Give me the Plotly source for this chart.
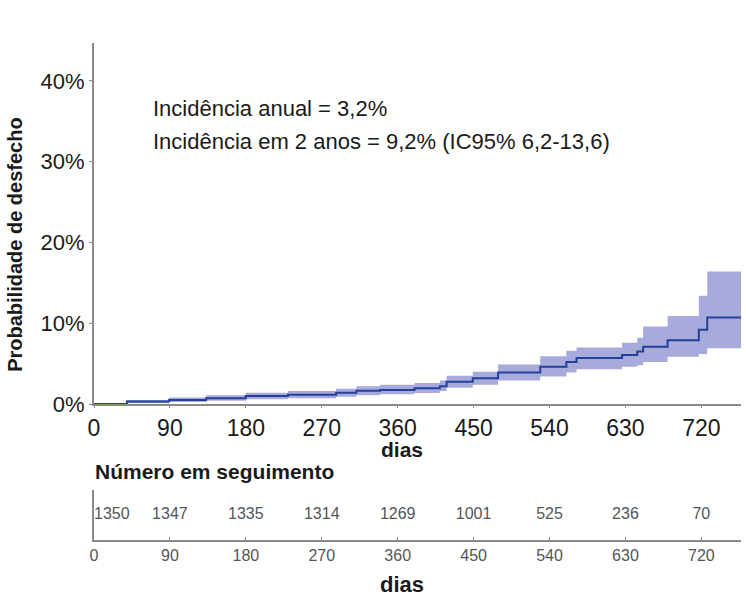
import plotly.graph_objects as go

# Kaplan-Meier style cumulative incidence (%), step function
days = [0, 39, 89, 133, 180, 230, 287, 311, 339, 380, 410, 418, 449, 479, 529, 560, 572, 626, 644, 651, 680, 717, 727, 767]
estimate = [0, 0.3, 0.5, 0.7, 1.0, 1.15, 1.4, 1.65, 1.73, 1.95, 2.2, 2.76, 3.2, 3.9, 4.6, 5.2, 5.7, 6.06, 6.5, 7.1, 7.9, 9.2, 10.7, 10.7]
lower = [0, 0.1, 0.25, 0.4, 0.6, 0.7, 0.9, 1.1, 1.2, 1.35, 1.6, 2.0, 2.4, 2.9, 3.4, 3.9, 4.3, 4.6, 4.8, 5.2, 5.85, 6.2, 6.9, 6.9]
upper = [0, 0.5, 0.8, 1.1, 1.4, 1.6, 1.9, 2.2, 2.4, 2.6, 2.9, 3.5, 4.0, 4.9, 5.9, 6.6, 7.0, 7.6, 8.2, 9.6, 10.9, 13.4, 16.4, 16.4]

risk_days = [0, 90, 180, 270, 360, 450, 540, 630, 720]
at_risk = [1350, 1347, 1335, 1314, 1269, 1001, 525, 236, 70]

y_ticks = [0, 10, 20, 30, 40]
y_ticktext = ["0%", "10%", "20%", "30%", "40%"]

FONT = "Liberation Sans Narrow, Arial Narrow, Liberation Sans, Arial, sans-serif"
BAND = "#a7aadb"
LINE = "#23409a"
AXIS = "#8a8a8a"

fig = go.Figure()
fig.add_trace(go.Scatter(x=days, y=lower, mode="lines", line=dict(width=0, shape="hv", color=BAND),
                         showlegend=False, hoverinfo="skip"))
fig.add_trace(go.Scatter(x=days, y=upper, mode="lines", line=dict(width=0, shape="hv", color=BAND),
                         fill="tonexty", fillcolor=BAND, showlegend=False, hoverinfo="skip"))
fig.add_trace(go.Scatter(x=days, y=estimate, mode="lines", line=dict(width=2, shape="hv", color=LINE),
                         showlegend=False))

# number at risk row
fig.add_trace(go.Scatter(x=risk_days, y=[0.5] * len(risk_days), mode="text",
                         text=[str(v) for v in at_risk],
                         textposition=["middle right"] + ["middle center"] * (len(risk_days) - 1),
                         textfont=dict(family=FONT, size=16, color="#555555"),
                         xaxis="x2", yaxis="y2", showlegend=False, hoverinfo="skip"))

fig.update_layout(
    width=746, height=606,
    margin=dict(l=94, r=5, t=43, b=66),
    plot_bgcolor="white", paper_bgcolor="white",
    xaxis=dict(range=[0, 767], domain=[0, 1], anchor="y", tickvals=risk_days,
               showline=True, linecolor=AXIS, linewidth=2, ticks="outside", ticklen=2, tickcolor=AXIS,
               showgrid=False, zeroline=False,
               tickfont=dict(family=FONT, size=23, color="#1a1a1a")),
    yaxis=dict(range=[0, 44.7], domain=[0.2736, 1], anchor="x", tickvals=y_ticks, ticktext=y_ticktext,
               showline=True, linecolor=AXIS, linewidth=2, ticks="outside", ticklen=3, tickcolor=AXIS,
               showgrid=False, zeroline=False,
               tickfont=dict(family=FONT, size=22, color="#1a1a1a")),
    xaxis2=dict(range=[0, 767], domain=[0, 1], anchor="y2", tickvals=risk_days,
                showline=True, linecolor=AXIS, linewidth=2, ticks="inside", ticklen=3, tickcolor=AXIS,
                showgrid=False, zeroline=False,
                tickfont=dict(family=FONT, size=16, color="#555555")),
    yaxis2=dict(range=[0, 1], domain=[0, 0.1006], anchor="x2", showticklabels=False,
                showline=True, linecolor=AXIS, linewidth=2, ticks="", showgrid=False, zeroline=False),
)

ann = [
    dict(text="Incidência anual = 3,2%", x=0.088, y=0.869, xanchor="left", size=22),
    dict(text="Incidência em 2 anos = 9,2% (IC95% 6,2-13,6)", x=0.088, y=0.801, xanchor="left", size=22),
    dict(text="<b>dias</b>", x=0.476, y=0.182, xanchor="center", size=21),
    dict(text="<b>Número em seguimento</b>", x=-0.002, y=0.1388, xanchor="left", size=21),
    dict(text="<b>dias</b>", x=0.476, y=-0.0905, xanchor="center", size=22),
]
for a in ann:
    fig.add_annotation(text=a["text"], xref="paper", yref="paper", x=a["x"], y=a["y"],
                       xanchor=a["xanchor"], yanchor="middle", showarrow=False,
                       font=dict(family=FONT, size=a["size"], color="#1a1a1a"))

fig.add_annotation(text="<b>Probabilidade de desfecho</b>", xref="paper", yref="paper",
                   x=-0.122, y=0.594, xanchor="center", yanchor="middle", textangle=-90,
                   showarrow=False, font=dict(family=FONT, size=20, color="#1a1a1a"))

fig.write_html("out.html")
